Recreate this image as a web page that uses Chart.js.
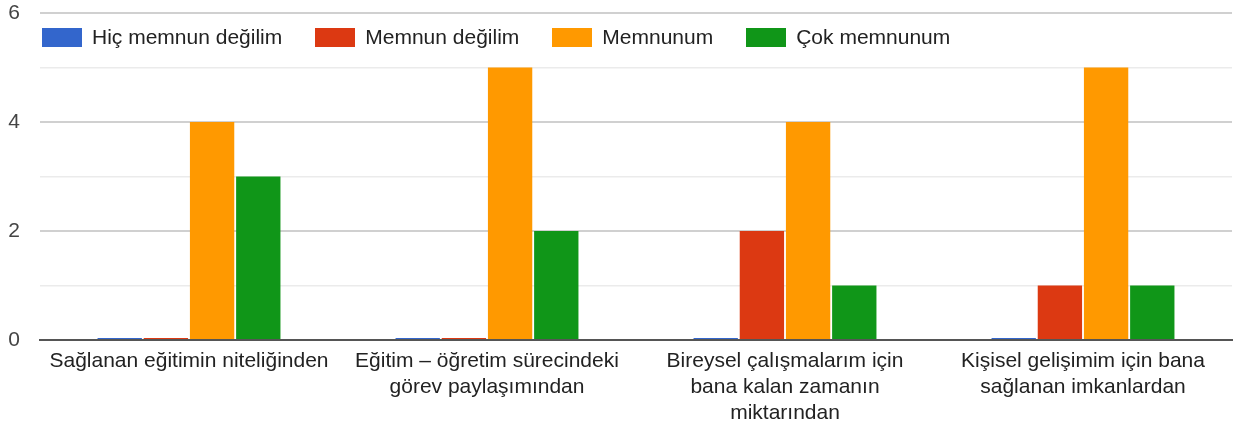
<!DOCTYPE html>
<html>
<head>
<meta charset="utf-8">
<script src="https://cdn.jsdelivr.net/npm/chart.js@4.4.1/dist/chart.umd.min.js"></script>
<style>
  html, body { margin: 0; padding: 0; background: #fff; }
  #wrap { position: relative; width: 1250px; height: 427px; }
  #legend { position: absolute; left: 42px; top: 25px; display: flex; font-family: "Liberation Sans", Arial, sans-serif; font-size: 21px; color: #222; }
  .item { display: flex; align-items: center; margin-right: 33px; }
  .box { width: 40px; height: 19px; margin-right: 10px; }
</style>
</head>
<body>
<div id="wrap">
  <canvas id="c" width="1250" height="427"></canvas>
  <div id="legend"></div>
</div>
<script>
const categories = [
  ["Sağlanan eğitimin niteliğinden"],
  ["Eğitim – öğretim sürecindeki", "görev paylaşımından"],
  ["Bireysel çalışmalarım için", "bana kalan zamanın", "miktarından"],
  ["Kişisel gelişimim için bana", "sağlanan imkanlardan"]
];
const seriesNames = ["Hiç memnun değilim", "Memnun değilim", "Memnunum", "Çok memnunum"];
const seriesColors = ["#3366cc", "#dc3912", "#ff9900", "#109618"];
const hicMemnunDegilim = [0, 0, 0, 0];
const memnunDegilim = [0, 0, 2, 1];
const memnunum = [4, 5, 4, 5];
const cokMemnunum = [3, 2, 1, 1];
const seriesValues = [hicMemnunDegilim, memnunDegilim, memnunum, cokMemnunum];
const yTicks = [0, 2, 4, 6];

const legend = document.getElementById('legend');
seriesNames.forEach((n, i) => {
  const it = document.createElement('div'); it.className = 'item';
  const b = document.createElement('div'); b.className = 'box'; b.style.background = seriesColors[i];
  const t = document.createElement('span'); t.textContent = n;
  it.appendChild(b); it.appendChild(t); legend.appendChild(it);
});

const FONT = "'Liberation Sans', Arial, sans-serif";
new Chart(document.getElementById('c'), {
  type: 'bar',
  data: {
    labels: categories,
    datasets: seriesNames.map((n, i) => ({
      label: n,
      data: seriesValues[i],
      backgroundColor: seriesColors[i],
      borderWidth: 0,
      minBarLength: 2,
      categoryPercentage: 0.62,
      barPercentage: 0.96
    }))
  },
  options: {
    responsive: false,
    animation: false,
    layout: { padding: { top: 13, right: 18, left: 0, bottom: 0 } },
    plugins: { legend: { display: false }, tooltip: { enabled: false } },
    scales: {
      x: {
        afterFit: s => { s.height = 87; s.paddingLeft = 0; s.paddingRight = 0; },
        grid: { display: false },
        border: { display: true, color: '#555', width: 2 },
        ticks: { color: '#222', font: { family: FONT, size: 21, lineHeight: 1.25 }, padding: 0, maxRotation: 0, autoSkip: false }
      },
      y: {
        min: 0, max: 6,
        afterFit: s => { s.width = 40; s.paddingTop = 0; s.paddingBottom = 0; },
        border: { display: false },
        grid: {
          drawTicks: false,
          color: ctx => (yTicks.includes(ctx.tick.value) ? '#d0d0d0' : '#ebebeb'),
          lineWidth: ctx => (yTicks.includes(ctx.tick.value) ? 2 : 1.5)
        },
        ticks: {
          stepSize: 1,
          color: '#444',
          padding: 20,
          font: { family: FONT, size: 21 },
          callback: v => (yTicks.includes(v) ? String(v) : '')
        }
      }
    }
  }
});
</script>
</body>
</html>
